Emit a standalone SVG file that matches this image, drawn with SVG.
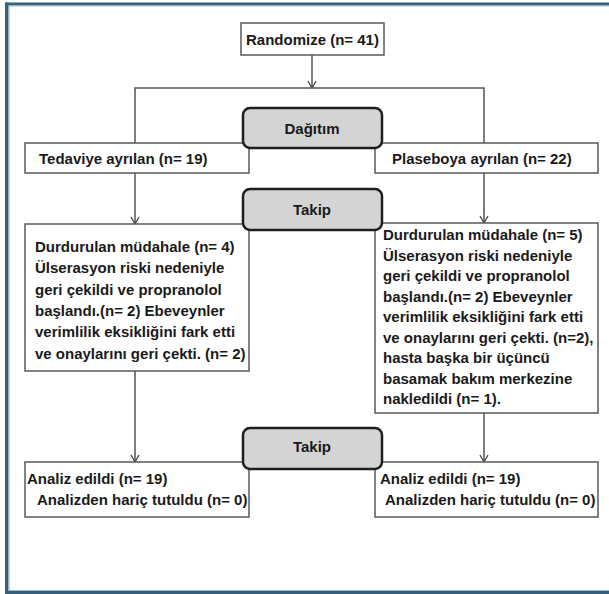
<svg xmlns="http://www.w3.org/2000/svg" width="609" height="594" viewBox="0 0 609 594">
<defs>
<style>
.t{font-family:"Liberation Sans",Arial,sans-serif;font-weight:bold;font-size:15px;fill:#1a1a1a}
.c{text-anchor:middle}
.box{fill:#fff;stroke:#5a5a5a;stroke-width:1.5}
.gbox{fill:#d4d4d4;stroke:#1e1e1e;stroke-width:2.5}
.ln{fill:none;stroke:#555;stroke-width:1.5}
</style>
<marker id="ah" markerWidth="10" markerHeight="10" refX="5" refY="8" orient="0" markerUnits="userSpaceOnUse">
<path d="M1,1 L5,8 L9,1" fill="none" stroke="#444" stroke-width="1.3"/>
</marker>
</defs>
<rect x="0" y="0" width="609" height="594" fill="#fff"/>
<g id="frame">
<rect x="5" y="2.5" width="604" height="3" fill="#34607e"/>
<rect x="5" y="5.5" width="604" height="1" fill="#9ab8cc"/>
<rect x="5" y="2.5" width="3.5" height="591.5" fill="#34607e"/>
<rect x="8.5" y="5.5" width="1" height="585" fill="#9ab8cc"/>
<rect x="5" y="591" width="604" height="3" fill="#34607e"/>
<rect x="8.5" y="590" width="600.5" height="1" fill="#9ab8cc"/>
</g>
<g id="connectors">
<line class="ln" x1="312" y1="55" x2="312" y2="88" marker-end="url(#ah)"/>
<polyline class="ln" points="135,143 135,88 484,88 484,143"/>
<line class="ln" x1="135" y1="173" x2="135" y2="224" marker-end="url(#ah)"/>
<line class="ln" x1="484" y1="173" x2="484" y2="223" marker-end="url(#ah)"/>
<line class="ln" x1="135" y1="371" x2="135" y2="462" marker-end="url(#ah)"/>
<line class="ln" x1="484" y1="413" x2="484" y2="462" marker-end="url(#ah)"/>
</g>
<g id="randomize">
<rect class="box" x="241" y="23" width="143" height="32"/>
<text class="t c" x="312.5" y="45">Randomize (n= 41)</text>
</g>
<g id="tedaviye">
<rect class="box" x="25" y="143" width="224" height="30"/>
<text class="t" x="39" y="164">Tedaviye ayrılan (n= 19)</text>
</g>
<g id="plaseboya">
<rect class="box" x="375" y="143" width="223" height="30"/>
<text class="t" x="392" y="164">Plaseboya ayrılan (n= 22)</text>
</g>
<g id="dagitim">
<rect class="gbox" x="243" y="108" width="139" height="40" rx="7"/>
<text class="t c" x="312" y="133.5">Dağıtım</text>
</g>
<g id="durdurulan-left">
<rect class="box" x="25" y="224" width="224" height="147"/>
<text class="t" x="35" y="252">Durdurulan müdahale (n= 4)</text>
<text class="t" x="35" y="273">Ülserasyon riski nedeniyle</text>
<text class="t" x="35" y="294.5">geri çekildi ve propranolol</text>
<text class="t" x="35" y="316">başlandı.(n= 2) Ebeveynler</text>
<text class="t" x="35" y="337">verimlilik eksikliğini fark etti</text>
<text class="t" x="35" y="358.5">ve onaylarını geri çekti. (n= 2)</text>
</g>
<g id="durdurulan-right">
<rect class="box" x="375" y="223" width="223" height="190"/>
<text class="t" x="383" y="240">Durdurulan müdahale (n= 5)</text>
<text class="t" x="383" y="260.5">Ülserasyon riski nedeniyle</text>
<text class="t" x="383" y="281">geri çekildi ve propranolol</text>
<text class="t" x="383" y="301.5">başlandı.(n= 2) Ebeveynler</text>
<text class="t" x="383" y="322">verimlilik eksikliğini fark etti</text>
<text class="t" x="383" y="342.5">ve onaylarını geri çekti. (n=2),</text>
<text class="t" x="383" y="363">hasta başka bir üçüncü</text>
<text class="t" x="383" y="383.5">basamak bakım merkezine</text>
<text class="t" x="383" y="404">nakledildi (n= 1).</text>
</g>
<g id="takip1">
<rect class="gbox" x="243" y="189" width="139" height="41" rx="7"/>
<text class="t c" x="312" y="214.5">Takip</text>
</g>
<g id="analiz-left">
<rect class="box" x="25" y="462" width="224" height="55"/>
<text class="t" x="27" y="483.5">Analiz edildi (n= 19)</text>
<text class="t" x="37" y="504.5">Analizden hariç tutuldu (n= 0)</text>
</g>
<g id="analiz-right">
<rect class="box" x="375" y="462" width="223" height="55"/>
<text class="t" x="380" y="483.5">Analiz edildi (n= 19)</text>
<text class="t" x="385" y="504.5">Analizden hariç tutuldu (n= 0)</text>
</g>
<g id="takip2">
<rect class="gbox" x="243" y="428" width="139" height="41" rx="7"/>
<text class="t c" x="312" y="452">Takip</text>
</g>
</svg>
